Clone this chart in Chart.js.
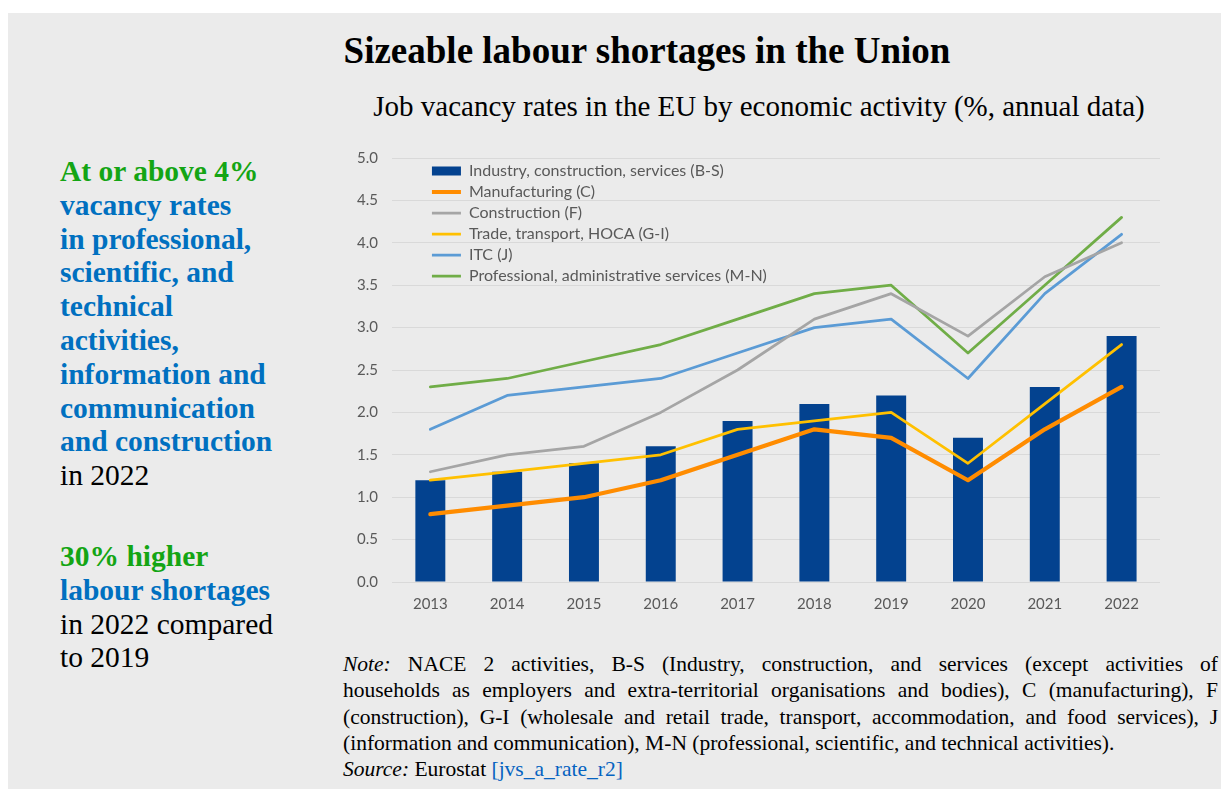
<!DOCTYPE html>
<html>
<head>
<meta charset="utf-8">
<script src="https://cdn.jsdelivr.net/npm/chart.js@4.4.1/dist/chart.umd.min.js"></script>
<style>
  html, body { margin: 0; padding: 0; background: #fff; }
  #page { position: absolute; left: 8px; top: 13px; width: 1213px; height: 776px; background: #ebebeb; overflow: hidden; }
  .abs { position: absolute; }
  #title { left: 0; width: 1278px; text-align: center; top: 19px; font: bold 37px "Liberation Serif", serif; line-height: 37px; color: #000; }
  #subtitle { left: 0; width: 1502px; text-align: center; top: 79px; font: 29px "Liberation Serif", serif; line-height: 29px; color: #000; }
  .side { left: 52px; width: 270px; font: 29.5px "Liberation Serif", serif; line-height: 33.8px; color: #000; white-space: nowrap; }
  .side b { font-weight: bold; }
  .g { color: #14a514; }
  .bl { color: #0070c0; }
  #note { left: 335px; width: 875px; top: 638px; font: 21.5px "Liberation Serif", serif; line-height: 26.25px; color: #000; }
  #note div { white-space: nowrap; }
  #note .j { text-align: justify; text-align-last: justify; }
  #note a { color: #0563c1; text-decoration: none; }
  #wrap { position: absolute; left: 322px; top: 122px; width: 840px; height: 495px; }
</style>
</head>
<body>
<div id="page">
  <div id="title" class="abs">Sizeable labour shortages in the Union</div>
  <div id="subtitle" class="abs">Job vacancy rates in the EU by economic activity (%, annual data)</div>
  <div class="abs side" style="top:142px">
    <b class="g">At or above 4%</b><br>
    <b class="bl">vacancy rates</b><br>
    <b class="bl">in professional,</b><br>
    <b class="bl">scientific, and</b><br>
    <b class="bl">technical</b><br>
    <b class="bl">activities,</b><br>
    <b class="bl">information and</b><br>
    <b class="bl">communication</b><br>
    <b class="bl">and construction</b><br>
    in 2022
  </div>
  <div class="abs side" style="top:527px">
    <b class="g">30% higher</b><br>
    <b class="bl">labour shortages</b><br>
    in 2022 compared<br>
    to 2019
  </div>
  <div id="note" class="abs">
    <div class="j"><i>Note:</i> NACE 2 activities, B-S (Industry, construction, and services (except activities of</div>
    <div class="j">households as employers and extra-territorial organisations and bodies), C (manufacturing), F</div>
    <div class="j">(construction), G-I (wholesale and retail trade, transport, accommodation, and food services), J</div>
    <div>(information and communication), M-N (professional, scientific, and technical activities).</div>
    <div><i>Source:</i> Eurostat <a>[jvs_a_rate_r2]</a></div>
  </div>
  <div id="wrap"><canvas id="chart"></canvas></div>
</div>
<script>
const years = ['2013','2014','2015','2016','2017','2018','2019','2020','2021','2022'];
const industryBS = [1.2, 1.3, 1.4, 1.6, 1.9, 2.1, 2.2, 1.7, 2.3, 2.9];
const manufacturing = [0.8, 0.9, 1.0, 1.2, 1.5, 1.8, 1.7, 1.2, 1.8, 2.3];
const construction = [1.3, 1.5, 1.6, 2.0, 2.5, 3.1, 3.4, 2.9, 3.6, 4.0];
const tradeTransport = [1.2, 1.3, 1.4, 1.5, 1.8, 1.9, 2.0, 1.4, 2.1, 2.8];
const itc = [1.8, 2.2, 2.3, 2.4, 2.7, 3.0, 3.1, 2.4, 3.4, 4.1];
const professional = [2.3, 2.4, 2.6, 2.8, 3.1, 3.4, 3.5, 2.7, 3.5, 4.3];

const lineSet = (label, data, color, width) => ({
  type: 'line', label: label, data: data, borderColor: color, backgroundColor: color,
  borderWidth: width, pointRadius: 0, tension: 0, borderCapStyle: 'round', borderJoinStyle: 'round', order: 0
});

// legend sits inside the plot, a bit in from the top-left corner
const legendShift = {
  id: 'legendShift',
  afterLayout(chart) {
    const lg = chart.legend, ca = chart.chartArea;
    const w = lg.width, h = lg.height;
    lg.left = ca.left + 35; lg.right = lg.left + w;
    lg.top = ca.top; lg.bottom = lg.top + h;
  }
};

new Chart(document.getElementById('chart'), {
  data: {
    labels: years,
    datasets: [
      { type: 'bar', label: 'Industry, construction, services (B-S)', data: industryBS,
        backgroundColor: '#03428f', barPercentage: 0.39, categoryPercentage: 1, order: 1 },
      lineSet('Manufacturing (C)', manufacturing, '#ff8c00', 4.2),
      lineSet('Construction (F)', construction, '#a5a5a5', 2.75),
      lineSet('Trade, transport, HOCA (G-I)', tradeTransport, '#ffc000', 2.75),
      lineSet('ITC (J)', itc, '#5b9bd5', 2.75),
      lineSet('Professional, administrative services (M-N)', professional, '#70ad47', 2.75)
    ]
  },
  plugins: [legendShift],
  options: {
    responsive: true,
    maintainAspectRatio: false,
    animation: false,
    layout: { padding: { left: 13, right: 10, top: 10, bottom: 4 } },
    plugins: {
      tooltip: { enabled: false },
      legend: {
        position: 'chartArea',
        align: 'start',
        labels: {
          font: { family: 'Lato', size: 16 },
          color: '#595959',
          usePointStyle: true,
          pointStyleWidth: 29,
          boxHeight: 9,
          padding: 5,
          generateLabels: (chart) => chart.data.datasets.map((ds, i) => ({
            text: ds.label,
            fillStyle: ds.type === 'bar' ? ds.backgroundColor : ds.borderColor,
            strokeStyle: ds.type === 'bar' ? ds.backgroundColor : ds.borderColor,
            lineWidth: ds.type === 'bar' ? 0 : ds.borderWidth,
            pointStyle: ds.type === 'bar' ? 'rect' : 'line',
            fontColor: '#595959',
            datasetIndex: i
          }))
        }
      }
    },
    scales: {
      x: {
        grid: { display: false, drawTicks: false },
        border: { display: false },
        ticks: { color: '#595959', font: { family: 'Lato', size: 15 }, padding: 13 }
      },
      y: {
        min: 0, max: 5,
        grid: { color: '#d9d9d9', drawTicks: false },
        border: { display: false },
        ticks: { stepSize: 0.5, color: '#595959', font: { family: 'Lato', size: 15 }, padding: 14,
          callback: (v) => v.toFixed(1) }
      }
    }
  }
});
</script>
</body>
</html>
